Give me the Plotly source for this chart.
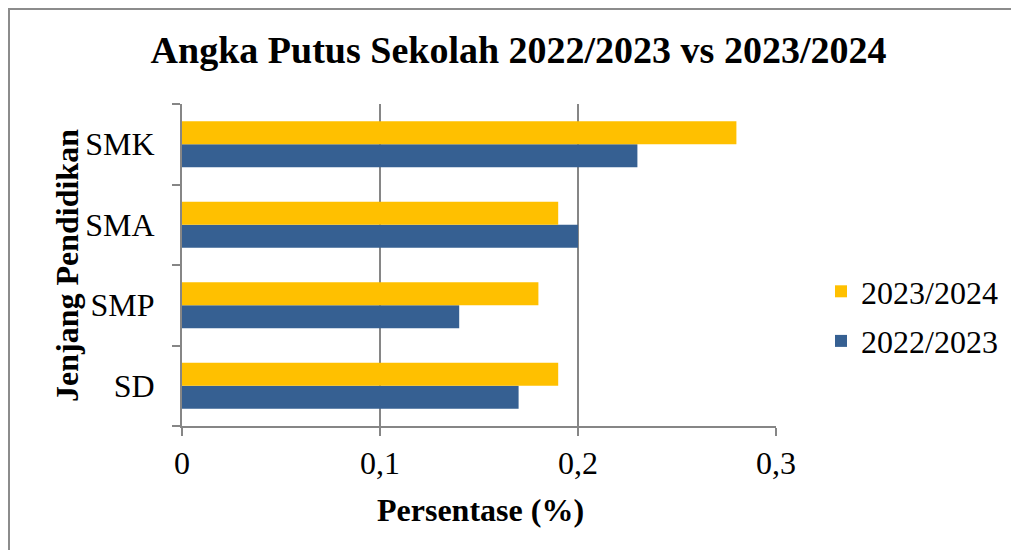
import plotly.graph_objects as go

categories = ["SD", "SMP", "SMA", "SMK"]
values_2022 = [0.17, 0.14, 0.20, 0.23]
values_2023 = [0.19, 0.18, 0.19, 0.28]
series_names = ["2022/2023", "2023/2024"]
x_ticks = [0, 0.1, 0.2, 0.3]
x_tick_labels = ["0", "0,1", "0,2", "0,3"]

# page has an 8px body margin; work in figure coordinates = page - 8
OFF = 8
W, H = 1019 - OFF, 550 - OFF
L, T = 182 - OFF, 104 - OFF
pw, ph = 594, 322
R = W - L - pw
B = H - T - ph

font = "Liberation Serif, Times New Roman, serif"

fig = go.Figure()
fig.add_trace(go.Bar(y=categories, x=values_2022, name=series_names[0], orientation="h",
                     legendgroup="a", legendrank=2,
                     marker=dict(color="#366092", line=dict(width=0))))
fig.add_trace(go.Bar(y=categories, x=values_2023, name=series_names[1], orientation="h",
                     legendgroup="b", legendrank=1,
                     marker=dict(color="#FFC000", line=dict(width=0))))

def px_x(x):
    return (x - OFF - L) / pw

def px_y(y):
    return (H - B - (y - OFF)) / ph

fig.update_layout(
    width=W, height=H,
    margin=dict(l=L, r=R, t=T, b=B, autoexpand=False),
    paper_bgcolor="white", plot_bgcolor="white",
    barmode="group", bargap=0.43, bargroupgap=0,
    font=dict(family=font, color="black", size=32),
    title=dict(text="<b>Angka Putus Sekolah 2022/2023 vs 2023/2024</b>",
               x=0.505, xanchor="center", y=1 - (50 - OFF) / H, yanchor="middle",
               font=dict(size=38, family=font)),
    xaxis=dict(range=[0, 0.3], tickvals=x_ticks, ticktext=x_tick_labels,
               showgrid=True, gridcolor="#868686", gridwidth=2,
               ticks="outside", ticklen=8, tickcolor="#868686", tickwidth=2,
               showline=True, linecolor="#868686", linewidth=2,
               zeroline=False, tickfont=dict(size=32), automargin=False),
    yaxis=dict(type="category", categoryorder="array", categoryarray=categories,
               tickson="boundaries", ticks="outside", ticklen=8, tickcolor="#868686", tickwidth=2,
               showline=True, linecolor="#868686", linewidth=2, showgrid=False,
               tickfont=dict(size=32), ticklabelstandoff=19, automargin=False),
    legend=dict(x=px_x(821), y=px_y(264), xanchor="left", yanchor="top",
                traceorder="grouped", font=dict(size=32), itemwidth=30,
                tracegroupgap=5, bgcolor="rgba(0,0,0,0)"),
    showlegend=True,
)

# axis titles
fig.add_annotation(text="<b>Persentase (%)</b>", xref="paper", yref="paper",
                   x=px_x(480), y=px_y(510), xanchor="center", yanchor="middle",
                   showarrow=False, font=dict(size=32, family=font))
fig.add_annotation(text="<b>Jenjang Pendidikan</b>", xref="paper", yref="paper",
                   x=px_x(67), y=px_y(266), xanchor="center", yanchor="middle",
                   textangle=-90, showarrow=False, font=dict(size=32, family=font))

# chart border (left and top edges visible)
fig.add_shape(type="line", xref="paper", yref="paper",
              x0=px_x(9), x1=px_x(9), y0=px_y(9), y1=px_y(600),
              line=dict(color="#8c8c8c", width=2))
fig.add_shape(type="line", xref="paper", yref="paper",
              x0=px_x(8), x1=px_x(1100), y0=px_y(9), y1=px_y(9),
              line=dict(color="#8c8c8c", width=2))

fig.write_html("out.html")
